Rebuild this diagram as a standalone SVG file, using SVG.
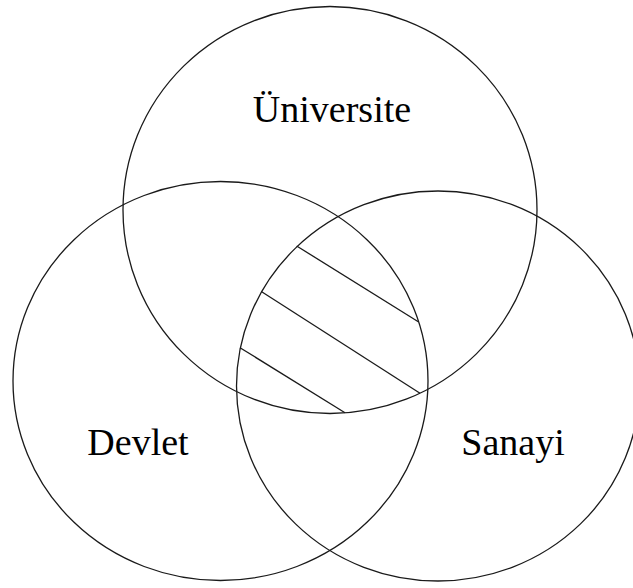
<svg xmlns="http://www.w3.org/2000/svg" width="633" height="588" viewBox="0 0 633 588">
<style>
.c{fill:none;stroke:#1a1a1a;stroke-width:1.3}
.h{stroke:#1a1a1a;stroke-width:1.3}
.t{font-family:"Liberation Serif","Times New Roman",serif;font-size:38px;fill:#000;text-anchor:middle}
</style>
<rect width="633" height="588" fill="#fff"/>
<g id="universite">
<ellipse class="c" cx="330" cy="210" rx="207" ry="203.5"/>
<text class="t" x="332" y="122">Üniversite</text>
</g>
<g id="devlet">
<ellipse class="c" cx="220.5" cy="381" rx="207.5" ry="199.5"/>
<text class="t" x="138" y="455">Devlet</text>
</g>
<g id="sanayi">
<ellipse class="c" cx="438" cy="386" rx="201.5" ry="195"/>
<text class="t" x="513" y="455">Sanayi</text>
</g>
<g id="hatch">
<line class="h" x1="296.7" y1="246" x2="418.3" y2="321.7"/>
<line class="h" x1="261.7" y1="291.7" x2="420" y2="393.3"/>
<line class="h" x1="240" y1="347.7" x2="345" y2="412.7"/>
</g>
</svg>
